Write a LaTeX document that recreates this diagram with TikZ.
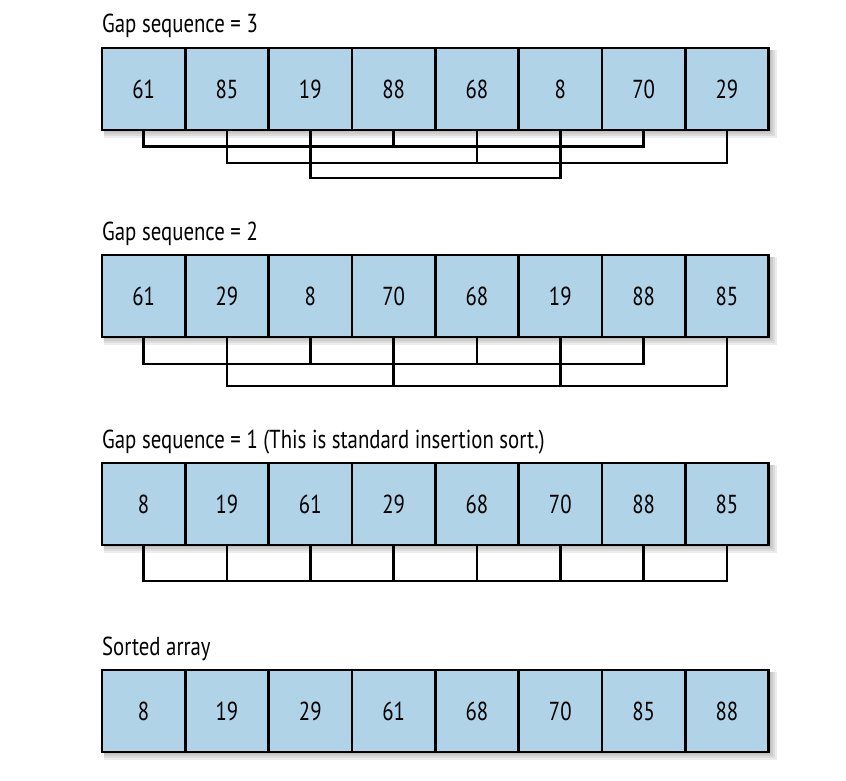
\documentclass[tikz,border=0pt]{standalone}
\usepackage{fontspec}
\setmainfont{PT Sans}[FakeStretch=0.80]
\usepackage{tikz}
\usetikzlibrary{positioning, calc}
\usepackage{xcolor}
\definecolor{cellblue}{RGB}{176,211,232}

\begin{document}
\begin{tikzpicture}[x=1pt, y=-1pt,
  cell/.style={draw, line width=2.8pt, fill=cellblue, minimum width=83.33pt,
    minimum height=82pt, inner sep=0pt, outer sep=0pt,
    font=\fontsize{26}{30}\selectfont},
  title/.style={anchor=base west, inner sep=0pt, font=\fontsize{26}{30}\selectfont},
  link/.style={draw, line width=2.4pt}]
  \useasboundingbox (0,0) rectangle (846,780);

  % the four arrays (row / top edge / values)
  \foreach \row/\top/\vals in {1/48/{61,85,19,88,68,8,70,29},
                               2/255/{61,29,8,70,68,19,88,85},
                               3/463/{8,19,61,29,68,70,88,85},
                               4/670/{8,19,29,61,68,70,85,88}} {
    % soft shadow
    \foreach \s in {2,4,6,8} {
      \fill[black, opacity=0.07] (104,\top+2) rectangle (768.7+\s,\top+82+\s);
    }
    \foreach \v [count=\i] in \vals {
      \node[cell] (r\row c\i) at ({102+83.33*(\i-0.5)},\top+41) {\v};
    }
  }

  \node[title] (t1) at (102,32)  {Gap sequence = 3};
  \node[title] (t2) at (102,240) {Gap sequence = 2};
  \node[title] (t3) at (102,448) {Gap sequence = 1 (This is standard insertion sort.)};
  \node[title] (t4) at (102,655) {Sorted array};

  % gap 3: three groups
  \foreach \a/\b/\d in {1/7/16.5, 2/8/33, 3/6/48} {
    \draw[link] (r1c\a.south) -- ++(0,\d) -| (r1c\b.south);
  }
  \foreach \c/\d in {4/16.5, 5/33} {
    \draw[link] (r1c\c.south) -- ++(0,\d);
  }

  % gap 2: two groups
  \foreach \a/\b/\d in {1/7/27, 2/8/49} {
    \draw[link] (r2c\a.south) -- ++(0,\d) -| (r2c\b.south);
  }
  \foreach \c/\d in {3/27, 5/27, 4/49, 6/49} {
    \draw[link] (r2c\c.south) -- ++(0,\d);
  }

  % gap 1: one group
  \draw[link] (r3c1.south) -- ++(0,36) -| (r3c8.south);
  \foreach \c in {2,...,7} {
    \draw[link] (r3c\c.south) -- ++(0,36);
  }
\end{tikzpicture}
\end{document}
